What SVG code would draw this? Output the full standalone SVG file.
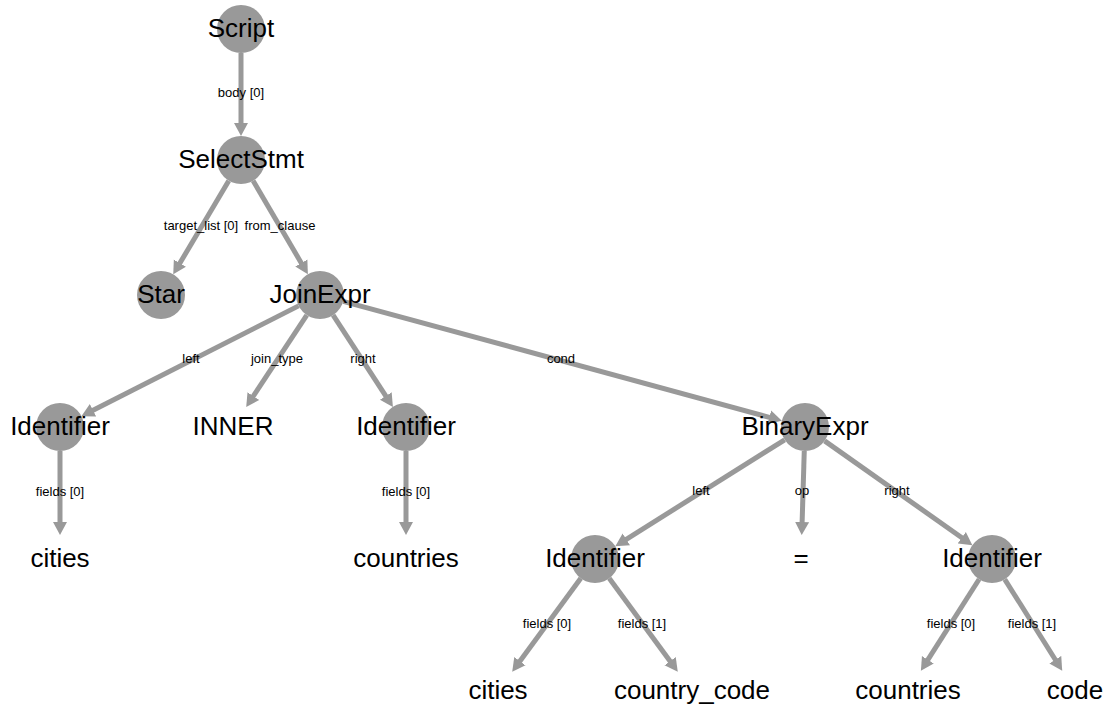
<svg xmlns="http://www.w3.org/2000/svg" width="1109" height="706" viewBox="0 0 1109 706">
  <style>
    .edge { stroke: #999999; stroke-width: 5; fill: none; marker-end: url(#arrow); }
    .node circle { fill: #999999; }
    .node text { font-family: "Liberation Sans", Arial, Helvetica, sans-serif; font-size: 26px; fill: #000; text-anchor: middle; }
    .elabel { font-family: "Liberation Sans", Arial, Helvetica, sans-serif; font-size: 13px; fill: #000; text-anchor: middle; }
  </style>
  <defs>
    <marker id="arrow" markerUnits="userSpaceOnUse" markerWidth="14" markerHeight="16" refX="1" refY="7" orient="auto" viewBox="0 0 14 14">
      <path d="M0,0 L13,7 L0,14 Z" fill="#999999"/>
    </marker>
  </defs>
  <rect width="1109" height="706" fill="#ffffff"/>

  <g id="connectors">
    <line class="edge" x1="241" y1="53" x2="241" y2="124"/>
    <line class="edge" x1="228.76" y1="180.65" x2="179.36" y2="264.03"/>
    <line class="edge" x1="253.12" y1="180.71" x2="301.82" y2="263.93"/>
    <line class="edge" x1="298.60" y1="305.86" x2="92.10" y2="410.71"/>
    <line class="edge" x1="306.79" y1="315.04" x2="252.81" y2="396.94"/>
    <line class="edge" x1="333.10" y1="315.11" x2="386.35" y2="396.84"/>
    <line class="edge" x1="343.16" y1="301.30" x2="770.26" y2="417.55"/>
    <line class="edge" x1="60" y1="451" x2="60" y2="523"/>
    <line class="edge" x1="406" y1="451" x2="406" y2="523"/>
    <line class="edge" x1="784.68" y1="439.77" x2="625.48" y2="539.84"/>
    <line class="edge" x1="804.27" y1="450.99" x2="802.09" y2="523.02"/>
    <line class="edge" x1="824.61" y1="440.84" x2="962.59" y2="538.24"/>
    <line class="edge" x1="580.79" y1="578.34" x2="519.32" y2="661.99"/>
    <line class="edge" x1="609.21" y1="578.34" x2="670.68" y2="661.99"/>
    <line class="edge" x1="979.11" y1="579.25" x2="927.33" y2="660.63"/>
    <line class="edge" x1="1004.78" y1="579.32" x2="1055.83" y2="660.52"/>

    <text class="elabel" x="241" y="97">body [0]</text>
    <text class="elabel" x="201" y="230">target_list [0]</text>
    <text class="elabel" x="280" y="230">from_clause</text>
    <text class="elabel" x="191" y="363">left</text>
    <text class="elabel" x="277" y="363">join_type</text>
    <text class="elabel" x="363" y="363">right</text>
    <text class="elabel" x="561" y="363">cond</text>
    <text class="elabel" x="60" y="496">fields [0]</text>
    <text class="elabel" x="406" y="496">fields [0]</text>
    <text class="elabel" x="701" y="495">left</text>
    <text class="elabel" x="802" y="495">op</text>
    <text class="elabel" x="897" y="495">right</text>
    <text class="elabel" x="547" y="628">fields [0]</text>
    <text class="elabel" x="642" y="628">fields [1]</text>
    <text class="elabel" x="951" y="628">fields [0]</text>
    <text class="elabel" x="1032" y="628">fields [1]</text>
  </g>

  <g id="node-script" class="node"><circle cx="241" cy="29" r="24"/><text x="241" y="37">Script</text></g>
  <g id="node-selectstmt" class="node"><circle cx="241" cy="160" r="24"/><text x="241" y="168">SelectStmt</text></g>
  <g id="node-star" class="node"><circle cx="161" cy="295" r="24"/><text x="161" y="303">Star</text></g>
  <g id="node-joinexpr" class="node"><circle cx="320" cy="295" r="24"/><text x="320" y="303">JoinExpr</text></g>
  <g id="node-identifier-left" class="node"><circle cx="60" cy="427" r="24"/><text x="60" y="435">Identifier</text></g>
  <g id="node-inner" class="node"><text x="233" y="435">INNER</text></g>
  <g id="node-identifier-right" class="node"><circle cx="406" cy="427" r="24"/><text x="406" y="435">Identifier</text></g>
  <g id="node-binaryexpr" class="node"><circle cx="805" cy="427" r="24"/><text x="805" y="435">BinaryExpr</text></g>
  <g id="node-cities-1" class="node"><text x="60" y="567">cities</text></g>
  <g id="node-countries-1" class="node"><text x="406" y="567">countries</text></g>
  <g id="node-cond-left" class="node"><circle cx="595" cy="559" r="24"/><text x="595" y="567">Identifier</text></g>
  <g id="node-op" class="node"><text x="801" y="567">=</text></g>
  <g id="node-cond-right" class="node"><circle cx="992" cy="559" r="24"/><text x="992" y="567">Identifier</text></g>
  <g id="node-cities-2" class="node"><text x="498" y="699">cities</text></g>
  <g id="node-country-code" class="node"><text x="692" y="699">country_code</text></g>
  <g id="node-countries-2" class="node"><text x="908" y="699">countries</text></g>
  <g id="node-code" class="node"><text x="1075" y="699">code</text></g>
</svg>
